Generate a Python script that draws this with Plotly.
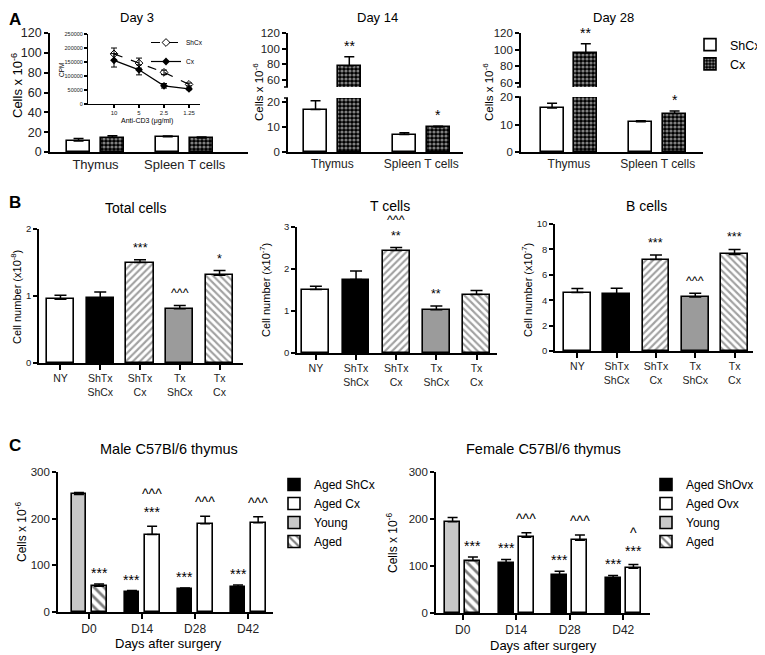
import plotly.graph_objects as go

FONT = "Liberation Sans, Arial, Helvetica, sans-serif"
PAGE_W, PAGE_H = 765, 655
BODY = 8  # default page margin around the plot div
W, H = PAGE_W - BODY, PAGE_H - BODY

# ---------------- data ----------------
# A: cells x10^6, sham vs castrated
a_cats = ["Thymus", "Spleen T cells"]
day3_shcx = [11.0, 15.5]
day3_shcx_err = [2.5, 0.6]
day3_cx = [14.5, 14.0]
day3_cx_err = [2.0, 1.2]
day14_shcx = [17.0, 7.0]
day14_shcx_err = [3.5, 0.7]
day14_cx = [78.0, 10.0]
day14_cx_err = [11.5, 0.3]
day14_marks = ["**", "*"]
day28_shcx = [16.0, 11.0]
day28_shcx_err = [1.7, 0.4]
day28_cx = [96.0, 14.0]
day28_cx_err = [11.0, 0.9]
day28_marks = ["**", "*"]

# A inset: proliferation (CPM)
cd3_doses = ["10", "5", "2.5", "1.25"]
cpm_shcx = [179000, 146000, 113000, 70000]
cpm_shcx_err = [21000, 18000, 8000, 5000]
cpm_cx = [156000, 122000, 65000, 54000]
cpm_cx_err = [24000, 18000, 8000, 3000]

# B
b_cats = ["NY", "ShTx<br>ShCx", "ShTx<br>Cx", "Tx<br>ShCx", "Tx<br>Cx"]
total_cells = [0.95, 0.97, 1.50, 0.81, 1.31]
total_err = [0.06, 0.09, 0.04, 0.05, 0.07]
total_marks = ["", "", "***", "^^^", "*"]
t_cells = [1.51, 1.75, 2.44, 1.03, 1.39]
t_err = [0.08, 0.20, 0.07, 0.09, 0.10]
t_marks = ["", "", "^^^<br>**", "**", ""]
b_cells = [4.6, 4.5, 7.2, 4.25, 7.6]
b_err = [0.32, 0.45, 0.35, 0.3, 0.4]
b_marks = ["", "", "***", "^^^", "***"]

# C
c_days = ["D0", "D14", "D28", "D42"]
male_young = [252]
male_young_err = [4]
male_aged = [55]
male_aged_err = [5]
male_shcx = [43, 49, 54]
male_shcx_err = [3, 2.5, 4]
male_cx = [166, 189, 191]
male_cx_err = [18, 16, 13]
male_aged_marks = ["***"]
male_shcx_marks = ["***", "***", "***"]
male_cx_marks = ["^^^<br>***", "^^^", "^^^"]
female_young = [194]
female_young_err = [9]
female_aged = [111]
female_aged_err = [8]
female_shovx = [106, 80, 75]
female_shovx_err = [8, 9, 5]
female_ovx = [161, 155, 95]
female_ovx_err = [10, 11, 8]
female_aged_marks = ["***"]
female_shovx_marks = ["***", "***", "***"]
female_ovx_marks = ["^^^", "^^^", "^<br>***"]

# ---------------- styles ----------------
CHECK = dict(shape=".", fgcolor="white", bgcolor="black", size=4, solidity=0.5)
HATCH_AGED = dict(shape="\\", fgcolor="black", bgcolor="white", size=7, solidity=0.4)
GRAY = "#9b9b9b"
LIGHT = "#c8c8c8"


# positions are given in page pixels and converted to paper fractions
def fx(p):
    return (p - BODY) / W


def fy(p):
    return 1 - (p - BODY) / H


def ref(axis, n):
    return axis if n == 1 else f"{axis}{n}"


traces = []
annotations = []
shapes = []
layout = dict(
    width=W, height=H, margin=dict(l=0, r=0, t=0, b=0, autoexpand=False),
    paper_bgcolor="white", plot_bgcolor="white",
    font=dict(family=FONT, color="black"),
    showlegend=True, bargap=0,
)


def xaxis(n, left, right, rng, anchor, cats, ticks="outside", size=12):
    layout[ref("xaxis", n)] = dict(
        domain=[fx(left), fx(right)], range=rng, anchor=ref("y", anchor),
        type="category", categoryorder="array", categoryarray=cats,
        showline=True, linecolor="black", linewidth=1.6,
        ticks=ticks, ticklen=5, tickwidth=1.5, tickcolor="black",
        showgrid=False, zeroline=False, tickfont=dict(size=size, color="#222"),
    )


def yaxis(n, top, bottom, rng, anchor, tickvals, size=11, fmt=None, ticklen=4):
    layout[ref("yaxis", n)] = dict(
        domain=[fy(bottom), fy(top)], range=rng, anchor=ref("x", anchor),
        showline=True, linecolor="black", linewidth=1.6,
        ticks="outside", ticklen=ticklen, tickwidth=1.5, tickcolor="black",
        tickvals=tickvals, tickformat=fmt,
        showgrid=False, zeroline=False, tickfont=dict(size=size, color="#222"),
    )


def bars(x, y, err, ax, ay, color="white", pattern=None, width=0.26, offset=None,
         name=None, legend=None, rank=1000, cap=5):
    marker = dict(color=color, line=dict(color="black", width=1.6))
    if pattern is not None:
        marker["pattern"] = pattern
    traces.append(go.Bar(
        x=x, y=y, xaxis=ref("x", ax), yaxis=ref("y", ay),
        width=width, offset=offset, marker=marker, name=name,
        showlegend=legend is not None, legend=legend or "legend", legendrank=rank,
        error_y=dict(type="data", array=err, arrayminus=[0] * len(err), symmetric=False,
                     color="black", thickness=1.5, width=cap),
    ))


def marks(ax, ay, pos, tops, texts, size=14, shift=1):
    for p, t, s in zip(pos, tops, texts):
        if s:
            annotations.append(dict(
                x=p, y=t, xref=ref("x", ax), yref=ref("y", ay), text=s, showarrow=False,
                yanchor="bottom", yshift=shift, font=dict(size=size, color="black"),
            ))


def text(x, y, s, size=12, angle=0, bold=False, anchor="middle"):
    annotations.append(dict(
        x=fx(x), y=fy(y), xref="paper", yref="paper", text=f"<b>{s}</b>" if bold else s,
        showarrow=False, textangle=angle, xanchor="center", yanchor=anchor,
        font=dict(size=size, color="black"),
    ))


def tops(vals, errs):
    return [v + e for v, e in zip(vals, errs)]


# ---------------- panel A ----------------
A_W, A_L, A_R = 0.26, -0.32, 0.06

# Day 3
xaxis(1, 50, 248, [-0.51, 1.71], 1, a_cats, ticks="", size=13)
yaxis(1, 33, 152, [0, 120], 1, [0, 20, 40, 60, 80, 100, 120], size=12.5)
bars(a_cats, day3_shcx, day3_shcx_err, 1, 1, width=A_W, offset=A_L, name="ShCx", legend="legend", rank=1)
bars(a_cats, day3_cx, day3_cx_err, 1, 1, pattern=CHECK, width=A_W, offset=A_R, name="Cx", legend="legend", rank=2)

# inset
xaxis(2, 88, 200, [-1.04, 3.44], 2, cd3_doses, size=6)
layout["xaxis2"]["ticklen"] = 3
layout["xaxis2"]["linewidth"] = 1
yaxis(2, 34, 104, [0, 250000], 2, [0, 50000, 100000, 150000, 200000, 250000], size=5.5, fmt="d", ticklen=3)
layout["yaxis2"]["linewidth"] = 1
traces.append(go.Scatter(
    x=cd3_doses, y=cpm_shcx, xaxis="x2", yaxis="y2", name="ShCx", legend="legend2",
    mode="lines+markers", line=dict(color="black", width=1.2, dash="dash"),
    marker=dict(symbol="diamond-open", size=6, color="black", line=dict(width=1)),
    error_y=dict(type="data", array=cpm_shcx_err, color="black", thickness=1, width=3),
))
traces.append(go.Scatter(
    x=cd3_doses, y=cpm_cx, xaxis="x2", yaxis="y2", name="Cx", legend="legend2",
    mode="lines+markers", line=dict(color="black", width=1.2),
    marker=dict(symbol="diamond", size=6, color="black"),
    error_y=dict(type="data", array=cpm_cx_err, color="black", thickness=1, width=3),
))
text(147, 121, "Anti-CD3 (μg/ml)", size=7)
text(62, 70, "CPM", size=6.5, angle=-90)

# Day 14 (broken axis: lower y3, upper y4)
xaxis(3, 288, 463, [-0.5, 1.47], 3, a_cats, ticks="", size=12)
yaxis(3, 98, 152, [0, 21.6], 3, [0, 10, 20], size=11.5)
yaxis(4, 33, 87, [51, 120], 3, [60, 80, 100, 120], size=11.5)
for ay in (3, 4):
    bars(a_cats, day14_shcx, day14_shcx_err, 3, ay, width=A_W, offset=A_L)
    bars(a_cats, day14_cx, day14_cx_err, 3, ay, pattern=CHECK, width=A_W, offset=A_R)
marks(3, 4, [0.19], tops(day14_cx, day14_cx_err)[:1], day14_marks[:1])
marks(3, 3, [1.19], tops(day14_cx, day14_cx_err)[1:], day14_marks[1:])

# Day 28 (broken axis: lower y5, upper y6)
xaxis(4, 521, 703, [-0.54, 1.51], 5, a_cats, ticks="", size=12)
yaxis(5, 97, 152, [0, 20], 4, [0, 10, 20], size=11.5)
yaxis(6, 33, 87, [55.2, 120], 4, [60, 80, 100, 120], size=11.5)
for ay in (5, 6):
    bars(a_cats, day28_shcx, day28_shcx_err, 4, ay, width=A_W, offset=A_L)
    bars(a_cats, day28_cx, day28_cx_err, 4, ay, pattern=CHECK, width=A_W, offset=A_R)
marks(4, 6, [0.19], tops(day28_cx, day28_cx_err)[:1], day28_marks[:1])
marks(4, 5, [1.19], tops(day28_cx, day28_cx_err)[1:], day28_marks[1:])

for xa, (y_up, y_low) in ((288, (87, 98)), (521, (87, 97))):
    for yy in (y_up, y_low):
        shapes.append(dict(type="line", xref="paper", yref="paper", x0=fx(xa - 4), x1=fx(xa),
                           y0=fy(yy), y1=fy(yy), line=dict(color="black", width=1.5)))

text(137, 8, "Day 3", size=13, anchor="top")
text(377, 8, "Day 14", size=13, anchor="top")
text(613, 8, "Day 28", size=13, anchor="top")
text(17, 86, "Cells x 10<sup>-6</sup>", size=13, angle=-90)
text(258, 92, "Cells x 10<sup>-6</sup>", size=11.5, angle=-90)
text(488, 92, "Cells x 10<sup>-6</sup>", size=11.5, angle=-90)
text(15, 8, "A", size=17, bold=True, anchor="top")

# ---------------- panel B ----------------
b_colors = ["white", "black", "white", GRAY, "white"]
b_pattern = dict(
    shape=["", "", "/", "", "\\"],
    fgcolor=["black", "black", "black", "black", "#7a7a7a"],
    bgcolor=b_colors, size=5, solidity=0.42,
)
b_pos = list(range(len(b_cats)))

xaxis(5, 39, 243, [-0.54, 4.59], 7, b_cats, size=10.5)
yaxis(7, 229, 363, [0, 2], 5, [0, 1, 2], size=9.5)
bars(b_cats, total_cells, total_err, 5, 7, color=b_colors, pattern=b_pattern, width=0.68, cap=6)
marks(5, 7, b_pos, tops(total_cells, total_err), total_marks, size=12.5, shift=3)

xaxis(6, 297, 497, [-0.47, 4.51], 8, b_cats, size=10.5)
yaxis(8, 227, 353, [0, 3], 6, [0, 1, 2, 3], size=9.5)
bars(b_cats, t_cells, t_err, 6, 8, color=b_colors, pattern=b_pattern, width=0.67, cap=6)
marks(6, 8, b_pos, tops(t_cells, t_err), t_marks, size=12.5, shift=3)

xaxis(7, 555, 753, [-0.57, 4.47], 9, b_cats, size=10.5)
yaxis(9, 224, 351, [0, 10], 7, [0, 2, 4, 6, 8, 10], size=9.5)
bars(b_cats, b_cells, b_err, 7, 9, color=b_colors, pattern=b_pattern, width=0.68, cap=6)
marks(7, 9, b_pos, tops(b_cells, b_err), b_marks, size=12.5, shift=3)

text(135, 208, "Total cells", size=14)
text(390, 206, "T cells", size=14)
text(646, 206, "B cells", size=14)
text(16, 297, "Cell number (x10<sup>-8</sup>)", size=11, angle=-90)
text(265, 290, "Cell number (x10<sup>-7</sup>)", size=11, angle=-90)
text(527, 290, "Cell number (x10<sup>-7</sup>)", size=11, angle=-90)
text(15, 203, "B", size=17, bold=True)

# ---------------- panel C ----------------
C_W, C_L, C_R = 0.28, -0.33, 0.05
later = c_days[1:]

xaxis(8, 58, 273, [-0.585, 3.47], 10, c_days, size=12)
yaxis(10, 472, 612, [0, 300], 8, [0, 100, 200, 300], size=11.5)
bars(later, male_shcx, male_shcx_err, 8, 10, color="black", width=C_W, offset=C_L,
     name="Aged ShCx", legend="legend3", rank=1)
bars(later, male_cx, male_cx_err, 8, 10, width=C_W, offset=C_R, name="Aged Cx", legend="legend3", rank=2)
bars(c_days[:1], male_young, male_young_err, 8, 10, color=LIGHT, width=C_W, offset=C_L,
     name="Young", legend="legend3", rank=3)
bars(c_days[:1], male_aged, male_aged_err, 8, 10, pattern=HATCH_AGED, width=C_W, offset=C_R,
     name="Aged", legend="legend3", rank=4)
marks(8, 10, [0.19], tops(male_aged, male_aged_err), male_aged_marks)
marks(8, 10, [1 - 0.19, 2 - 0.19, 3 - 0.19], tops(male_shcx, male_shcx_err), male_shcx_marks)
marks(8, 10, [1.19, 2.19, 3.19], tops(male_cx, male_cx_err), male_cx_marks, shift=4)

xaxis(9, 436, 650, [-0.5, 3.5], 11, c_days, size=12)
yaxis(11, 472, 613, [0, 300], 9, [0, 100, 200, 300], size=11.5)
bars(later, female_shovx, female_shovx_err, 9, 11, color="black", width=C_W, offset=C_L,
     name="Aged ShOvx", legend="legend4", rank=1)
bars(later, female_ovx, female_ovx_err, 9, 11, width=C_W, offset=C_R, name="Aged Ovx", legend="legend4", rank=2)
bars(c_days[:1], female_young, female_young_err, 9, 11, color=LIGHT, width=C_W, offset=C_L,
     name="Young", legend="legend4", rank=3)
bars(c_days[:1], female_aged, female_aged_err, 9, 11, pattern=HATCH_AGED, width=C_W, offset=C_R,
     name="Aged", legend="legend4", rank=4)
marks(9, 11, [0.19], tops(female_aged, female_aged_err), female_aged_marks)
marks(9, 11, [1 - 0.19, 2 - 0.19, 3 - 0.19], tops(female_shovx, female_shovx_err), female_shovx_marks)
marks(9, 11, [1.19, 2.19, 3.19], tops(female_ovx, female_ovx_err), female_ovx_marks, shift=4)

text(169, 449, "Male C57Bl/6 thymus", size=14.5)
text(543, 449, "Female C57Bl/6 thymus", size=14.5)
text(168, 643, "Days after surgery", size=13)
text(543, 645, "Days after surgery", size=13)
text(21, 532, "Cells x 10<sup>-6</sup>", size=12, angle=-90)
text(392, 543, "Cells x 10<sup>-6</sup>", size=12, angle=-90)
text(15, 445, "C", size=17, bold=True)

# ---------------- legends ----------------
LEG = dict(xanchor="left", yanchor="top", bgcolor="rgba(0,0,0,0)", itemwidth=30,
           tracegroupgap=0, traceorder="normal")
layout["legend"] = dict(LEG, x=fx(690), y=fy(30), font=dict(size=12.5))
layout["legend2"] = dict(LEG, x=fx(146), y=fy(28), font=dict(size=6.5))
layout["legend3"] = dict(LEG, x=fx(274), y=fy(470), font=dict(size=12))
layout["legend4"] = dict(LEG, x=fx(646), y=fy(470), font=dict(size=12))

layout["annotations"] = annotations
layout["shapes"] = shapes

fig = go.Figure(data=traces, layout=layout)
fig.write_html("out.html")
